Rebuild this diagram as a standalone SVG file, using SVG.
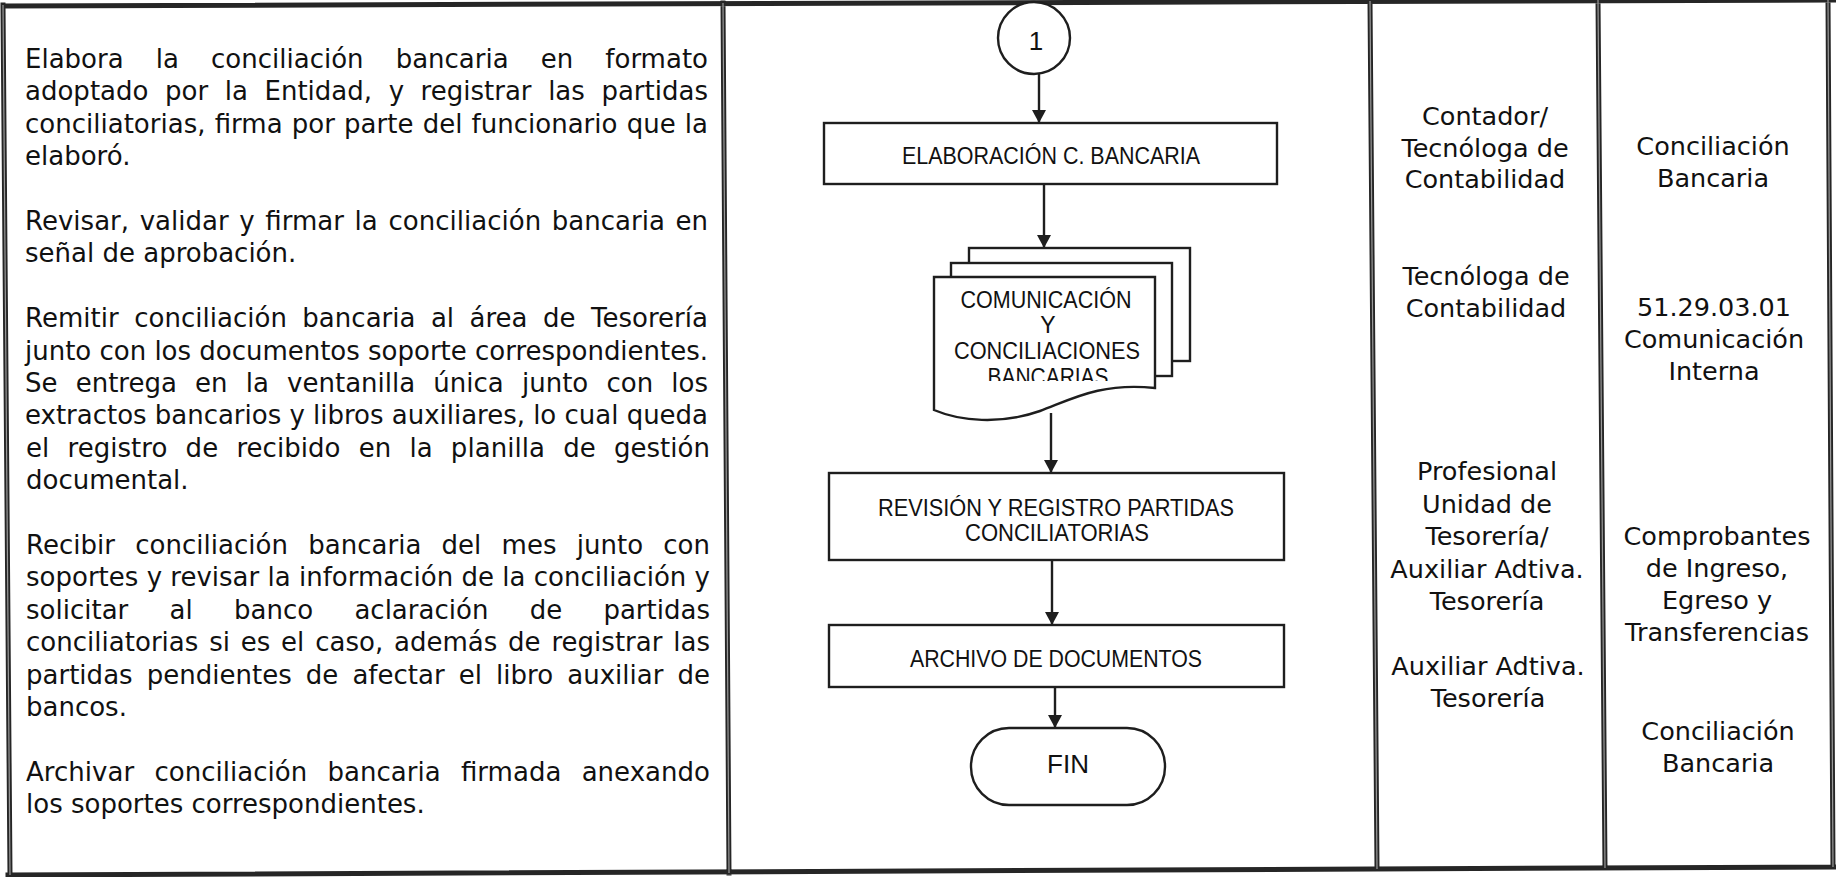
<svg xmlns="http://www.w3.org/2000/svg" width="1836" height="877" viewBox="0 0 1836 877">
<style>
.frame{stroke:#262626;stroke-width:5;fill:none;stroke-linecap:square}
.frame2{stroke:#9a9a9a;stroke-width:1.2;fill:none}
.shape{fill:#fff;stroke:#1e1e1e;stroke-width:2.4}
.conn{stroke:#1e1e1e;stroke-width:2.4;fill:none;marker-end:url(#arr)}
.body{font-family:"DejaVu Sans",Verdana,sans-serif;font-size:26px;fill:#111}
.col{font-family:"DejaVu Sans",Verdana,sans-serif;font-size:25.5px;fill:#111;text-anchor:middle}
.fc{font-family:"Liberation Sans",Arial,sans-serif;font-size:23px;fill:#111;text-anchor:middle}
</style>
<defs>
<marker id="arr" viewBox="0 0 13 14" markerWidth="13" markerHeight="14" refX="13" refY="7" orient="auto" markerUnits="userSpaceOnUse">
<path d="M0,0 L13,7 L0,14 z" fill="#1e1e1e"/>
</marker>
<clipPath id="docclip"><rect x="930" y="270" width="230" height="111"/></clipPath>
</defs>
<rect width="1836" height="877" fill="#fff"/>
<g id="table">
<path class="frame" d="M3,6 L1834,0 M8,875 L1834,867 M3,5 L10,875 M723,3 L729,873 M1370,1 L1377,869 M1598,0 L1605,868 M1828,0 L1833,867"/>
<path class="frame2" d="M3,5 L10,875 M723,3 L729,873 M1370,1 L1377,869 M1598,0 L1605,868 M1828,0 L1833,867"/>
</g>
<g id="descripcion">
<text class="body" x="25" y="68" textLength="683" lengthAdjust="spacing" style="word-spacing:23.8px">Elabora la conciliación bancaria en formato</text>
<text class="body" x="25" y="100.4" textLength="683" lengthAdjust="spacing" style="word-spacing:8.3px">adoptado por la Entidad, y registrar las partidas</text>
<text class="body" x="25" y="132.8" textLength="683" lengthAdjust="spacing" style="word-spacing:0.9px">conciliatorias, firma por parte del funcionario que la</text>
<text class="body" x="25" y="165.2">elaboró.</text>
<text class="body" x="25" y="230" textLength="683" lengthAdjust="spacing" style="word-spacing:2.3px">Revisar, validar y firmar la conciliación bancaria en</text>
<text class="body" x="25" y="262.4">señal de aprobación.</text>
<text class="body" x="25" y="327.2" textLength="683" lengthAdjust="spacing" style="word-spacing:7.1px">Remitir conciliación bancaria al área de Tesorería</text>
<text class="body" x="25" y="359.6" textLength="683" lengthAdjust="spacing">junto con los documentos soporte correspondientes.</text>
<text class="body" x="25" y="392" textLength="683" lengthAdjust="spacing" style="word-spacing:9.9px">Se entrega en la ventanilla única junto con los</text>
<text class="body" x="25" y="424.4" textLength="683" lengthAdjust="spacing">extractos bancarios y libros auxiliares, lo cual queda</text>
<text class="body" x="26" y="456.8" textLength="684" lengthAdjust="spacing" style="word-spacing:9.9px">el registro de recibido en la planilla de gestión</text>
<text class="body" x="26" y="489.2">documental.</text>
<text class="body" x="26" y="554" textLength="684" lengthAdjust="spacing" style="word-spacing:11.9px">Recibir conciliación bancaria del mes junto con</text>
<text class="body" x="26" y="586.4" textLength="684" lengthAdjust="spacing">soportes y revisar la información de la conciliación y</text>
<text class="body" x="26" y="618.8" textLength="684" lengthAdjust="spacing" style="word-spacing:33px">solicitar al banco aclaración de partidas</text>
<text class="body" x="26" y="651.2" textLength="684" lengthAdjust="spacing" style="word-spacing:2.5px">conciliatorias si es el caso, además de registrar las</text>
<text class="body" x="26" y="683.6" textLength="684" lengthAdjust="spacing" style="word-spacing:5.8px">partidas pendientes de afectar el libro auxiliar de</text>
<text class="body" x="26" y="716">bancos.</text>
<text class="body" x="26" y="780.8" textLength="684" lengthAdjust="spacing" style="word-spacing:12px">Archivar conciliación bancaria firmada anexando</text>
<text class="body" x="26" y="813.2">los soportes correspondientes.</text>
</g>
<g id="connectors">
<line class="conn" x1="1039" y1="74" x2="1039" y2="123"/>
<line class="conn" x1="1044" y1="184" x2="1044" y2="248"/>
<line class="conn" x1="1051" y1="413" x2="1051" y2="473"/>
<line class="conn" x1="1052" y1="560" x2="1052" y2="625"/>
<line class="conn" x1="1055" y1="687" x2="1055" y2="728"/>
</g>
<g id="conector-1">
<circle class="shape" cx="1034" cy="38" r="36"/>
<text class="fc" x="1036" y="50" style="font-size:26px">1</text>
</g>
<g id="elaboracion">
<rect class="shape" x="824" y="123" width="453" height="61"/>
<text class="fc" x="1051" y="164" textLength="298" lengthAdjust="spacingAndGlyphs">ELABORACIÓN C. BANCARIA</text>
</g>
<g id="documentos">
<rect class="shape" x="969" y="248" width="221" height="113"/>
<rect class="shape" x="951" y="263" width="221" height="113"/>
<path class="shape" d="M934,277 H1155 V388 C1100,382 1070,400 1040,411 C1000,425 960,421 934,410 Z"/>
<g clip-path="url(#docclip)">
<text class="fc" x="1046" y="308" textLength="171" lengthAdjust="spacingAndGlyphs">COMUNICACIÓN</text>
<text class="fc" x="1048" y="333">Y</text>
<text class="fc" x="1047" y="359" textLength="186" lengthAdjust="spacingAndGlyphs">CONCILIACIONES</text>
<text class="fc" x="1048" y="385" textLength="121" lengthAdjust="spacingAndGlyphs">BANCARIAS</text>
</g>
</g>
<g id="revision">
<rect class="shape" x="829" y="473" width="455" height="87"/>
<text class="fc" x="1056" y="516" textLength="356" lengthAdjust="spacingAndGlyphs">REVISIÓN Y REGISTRO PARTIDAS</text>
<text class="fc" x="1057" y="541" textLength="184" lengthAdjust="spacingAndGlyphs">CONCILIATORIAS</text>
</g>
<g id="archivo">
<rect class="shape" x="829" y="625" width="455" height="62"/>
<text class="fc" x="1056" y="667" textLength="292" lengthAdjust="spacingAndGlyphs">ARCHIVO DE DOCUMENTOS</text>
</g>
<g id="fin">
<rect class="shape" x="971" y="728" width="194" height="77" rx="38" ry="38"/>
<text class="fc" x="1068" y="773" style="font-size:26px">FIN</text>
</g>
<g id="responsables">
<text class="col" x="1485" y="125">Contador/</text>
<text class="col" x="1485" y="157">Tecnóloga de</text>
<text class="col" x="1485" y="188">Contabilidad</text>
<text class="col" x="1486" y="285">Tecnóloga de</text>
<text class="col" x="1486" y="317">Contabilidad</text>
<text class="col" x="1487" y="480">Profesional</text>
<text class="col" x="1487" y="513">Unidad de</text>
<text class="col" x="1487" y="545">Tesorería/</text>
<text class="col" x="1487" y="578">Auxiliar Adtiva.</text>
<text class="col" x="1487" y="610">Tesorería</text>
<text class="col" x="1488" y="675">Auxiliar Adtiva.</text>
<text class="col" x="1488" y="707">Tesorería</text>
</g>
<g id="registros">
<text class="col" x="1713" y="155">Conciliación</text>
<text class="col" x="1713" y="187">Bancaria</text>
<text class="col" x="1714" y="316">51.29.03.01</text>
<text class="col" x="1714" y="348">Comunicación</text>
<text class="col" x="1714" y="380">Interna</text>
<text class="col" x="1717" y="545">Comprobantes</text>
<text class="col" x="1717" y="577">de Ingreso,</text>
<text class="col" x="1717" y="609">Egreso y</text>
<text class="col" x="1717" y="641">Transferencias</text>
<text class="col" x="1718" y="740">Conciliación</text>
<text class="col" x="1718" y="772">Bancaria</text>
</g>
</svg>
